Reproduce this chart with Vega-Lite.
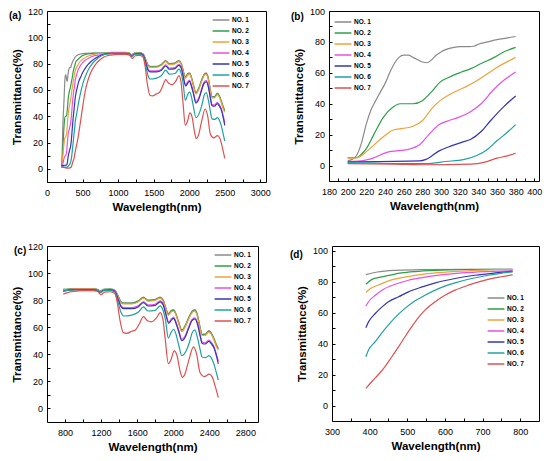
{
  "$schema": "https://vega.github.io/schema/vega-lite/v6.json",
  "background": "white",
  "padding": {"left": 8, "top": 6, "right": 0, "bottom": 0},
  "config": {
    "font": "Liberation Sans",
    "view": {"stroke": "black", "strokeWidth": 1},
    "axis": {
      "domain": false, "grid": false, "tickColor": "black", "tickSize": -3, "tickWidth": 1,
      "labelFontSize": 9, "labelColor": "black", "labelFlush": false, "labelOverlap": false, "labelBound": false,
      "titleFontSize": 11.5, "titleFontWeight": "bold", "titleColor": "black", "format": "d"
    },
    "axisX": {"labelPadding": 9.5, "titlePadding": 4},
    "axisY": {"labelPadding": 7.5, "titlePadding": 5},
    "legend": {
      "orient": "none", "title": null, "padding": 0, "symbolType": "M-1.6,0H1.6", "symbolSize": 110,
      "symbolStrokeWidth": 1.5, "labelFontSize": 6.5, "labelFontWeight": "bold", "labelColor": "black",
      "rowPadding": 1, "labelOffset": 5
    },
    "title": {"fontSize": 10, "fontWeight": "bold", "anchor": "start", "frame": "group", "offset": 0, "baseline": "bottom", "color": "black"}
  },
  "datasets": {
    "spec": [
      {"s":"NO. 1","w":200,"t":3},{"s":"NO. 1","w":205,"t":4},{"s":"NO. 1","w":210,"t":7},{"s":"NO. 1","w":215,"t":15},{"s":"NO. 1","w":220,"t":27},{"s":"NO. 1","w":225,"t":36},{"s":"NO. 1","w":230,"t":42},{"s":"NO. 1","w":235,"t":47.5},{"s":"NO. 1","w":240,"t":53},{"s":"NO. 1","w":245,"t":60},{"s":"NO. 1","w":250,"t":66},{"s":"NO. 1","w":255,"t":70},{"s":"NO. 1","w":260,"t":71.5},{"s":"NO. 1","w":265,"t":71.5},{"s":"NO. 1","w":270,"t":70},{"s":"NO. 1","w":275,"t":68.5},{"s":"NO. 1","w":280,"t":67},{"s":"NO. 1","w":285,"t":66.5},{"s":"NO. 1","w":290,"t":68.5},{"s":"NO. 1","w":295,"t":71.5},{"s":"NO. 1","w":300,"t":73.5},{"s":"NO. 1","w":305,"t":75},{"s":"NO. 1","w":310,"t":76},{"s":"NO. 1","w":320,"t":77},{"s":"NO. 1","w":330,"t":77},{"s":"NO. 1","w":335,"t":77.2},{"s":"NO. 1","w":340,"t":78.5},{"s":"NO. 1","w":350,"t":80},{"s":"NO. 1","w":360,"t":81.5},{"s":"NO. 1","w":370,"t":82.5},{"s":"NO. 1","w":380,"t":83.5},
      {"s":"NO. 1","w":390,"t":84.5},{"s":"NO. 1","w":420,"t":86.2},{"s":"NO. 1","w":470,"t":87.3},{"s":"NO. 1","w":550,"t":87.8},{"s":"NO. 1","w":650,"t":88},{"s":"NO. 1","w":780,"t":88},
      {"s":"NO. 1","w":800,"t":88},{"s":"NO. 1","w":900,"t":88.5},{"s":"NO. 1","w":1000,"t":88.5},{"s":"NO. 1","w":1100,"t":88.5},{"s":"NO. 1","w":1160,"t":88},{"s":"NO. 1","w":1190,"t":86.8},{"s":"NO. 1","w":1230,"t":88},{"s":"NO. 1","w":1300,"t":88.2},{"s":"NO. 1","w":1350,"t":87.5},{"s":"NO. 1","w":1390,"t":83},{"s":"NO. 1","w":1420,"t":79},{"s":"NO. 1","w":1450,"t":78},{"s":"NO. 1","w":1540,"t":78},{"s":"NO. 1","w":1610,"t":79.5},{"s":"NO. 1","w":1670,"t":82.3},{"s":"NO. 1","w":1720,"t":80},{"s":"NO. 1","w":1800,"t":80.6},{"s":"NO. 1","w":1855,"t":82.3},{"s":"NO. 1","w":1890,"t":80},{"s":"NO. 1","w":1915,"t":75},{"s":"NO. 1","w":1945,"t":70},{"s":"NO. 1","w":1980,"t":72.5},{"s":"NO. 1","w":2005,"t":73},{"s":"NO. 1","w":2030,"t":70},{"s":"NO. 1","w":2060,"t":64},{"s":"NO. 1","w":2095,"t":58},{"s":"NO. 1","w":2130,"t":61},{"s":"NO. 1","w":2170,"t":67},{"s":"NO. 1","w":2205,"t":71.5},{"s":"NO. 1","w":2235,"t":73},{"s":"NO. 1","w":2265,"t":70},{"s":"NO. 1","w":2295,"t":61},{"s":"NO. 1","w":2320,"t":55},{"s":"NO. 1","w":2355,"t":55},{"s":"NO. 1","w":2395,"t":57.5},{"s":"NO. 1","w":2420,"t":56},{"s":"NO. 1","w":2450,"t":52},{"s":"NO. 1","w":2480,"t":47},{"s":"NO. 1","w":2500,"t":44.5},

      {"s":"NO. 2","w":200,"t":5},{"s":"NO. 2","w":210,"t":5.2},{"s":"NO. 2","w":215,"t":7.5},{"s":"NO. 2","w":220,"t":11},{"s":"NO. 2","w":228,"t":20},{"s":"NO. 2","w":238,"t":31},{"s":"NO. 2","w":249,"t":38},{"s":"NO. 2","w":256,"t":40},{"s":"NO. 2","w":270,"t":40},{"s":"NO. 2","w":280,"t":42},{"s":"NO. 2","w":291,"t":48.5},{"s":"NO. 2","w":299,"t":54},{"s":"NO. 2","w":308,"t":57},{"s":"NO. 2","w":322,"t":60.5},{"s":"NO. 2","w":332,"t":62.7},{"s":"NO. 2","w":343,"t":66},{"s":"NO. 2","w":357,"t":70},{"s":"NO. 2","w":367,"t":73.5},{"s":"NO. 2","w":380,"t":76.5},
      {"s":"NO. 2","w":390,"t":78.3},{"s":"NO. 2","w":405,"t":81.3},{"s":"NO. 2","w":425,"t":82.7},{"s":"NO. 2","w":450,"t":84},{"s":"NO. 2","w":485,"t":85.6},{"s":"NO. 2","w":520,"t":86.5},{"s":"NO. 2","w":575,"t":87.3},{"s":"NO. 2","w":645,"t":87.8},{"s":"NO. 2","w":780,"t":88},
      {"s":"NO. 2","w":800,"t":87.9},{"s":"NO. 2","w":900,"t":88.4},{"s":"NO. 2","w":1000,"t":88.4},{"s":"NO. 2","w":1100,"t":88.4},{"s":"NO. 2","w":1160,"t":87.9},{"s":"NO. 2","w":1190,"t":86.7},{"s":"NO. 2","w":1230,"t":87.9},{"s":"NO. 2","w":1300,"t":88.1},{"s":"NO. 2","w":1350,"t":87.3},{"s":"NO. 2","w":1390,"t":82.6},{"s":"NO. 2","w":1420,"t":78.6},{"s":"NO. 2","w":1450,"t":77.6},{"s":"NO. 2","w":1540,"t":77.6},{"s":"NO. 2","w":1610,"t":79.1},{"s":"NO. 2","w":1670,"t":81.9},{"s":"NO. 2","w":1720,"t":79.6},{"s":"NO. 2","w":1800,"t":80.2},{"s":"NO. 2","w":1855,"t":81.9},{"s":"NO. 2","w":1890,"t":79.5},{"s":"NO. 2","w":1915,"t":74.5},{"s":"NO. 2","w":1945,"t":69.4},{"s":"NO. 2","w":1980,"t":72},{"s":"NO. 2","w":2005,"t":72.5},{"s":"NO. 2","w":2030,"t":69.5},{"s":"NO. 2","w":2060,"t":63.4},{"s":"NO. 2","w":2095,"t":57.4},{"s":"NO. 2","w":2130,"t":60.4},{"s":"NO. 2","w":2170,"t":66.4},{"s":"NO. 2","w":2205,"t":71},{"s":"NO. 2","w":2235,"t":72.5},{"s":"NO. 2","w":2265,"t":69.4},{"s":"NO. 2","w":2295,"t":60.4},{"s":"NO. 2","w":2320,"t":54.5},{"s":"NO. 2","w":2355,"t":54.5},{"s":"NO. 2","w":2395,"t":57},{"s":"NO. 2","w":2420,"t":55.5},{"s":"NO. 2","w":2450,"t":51.4},{"s":"NO. 2","w":2480,"t":46.4},{"s":"NO. 2","w":2500,"t":44},

      {"s":"NO. 3","w":200,"t":4.8},{"s":"NO. 3","w":210,"t":5},{"s":"NO. 3","w":221,"t":9.5},{"s":"NO. 3","w":235,"t":17},{"s":"NO. 3","w":249,"t":23},{"s":"NO. 3","w":259,"t":24},{"s":"NO. 3","w":270,"t":25.4},{"s":"NO. 3","w":280,"t":29},{"s":"NO. 3","w":291,"t":37.5},{"s":"NO. 3","w":299,"t":42},{"s":"NO. 3","w":311,"t":46.5},{"s":"NO. 3","w":325,"t":50.5},{"s":"NO. 3","w":336,"t":54},{"s":"NO. 3","w":346,"t":58},{"s":"NO. 3","w":360,"t":63.5},{"s":"NO. 3","w":380,"t":70},
      {"s":"NO. 3","w":390,"t":73},{"s":"NO. 3","w":402,"t":75.5},{"s":"NO. 3","w":425,"t":78},{"s":"NO. 3","w":450,"t":80.5},{"s":"NO. 3","w":485,"t":82.6},{"s":"NO. 3","w":520,"t":84},{"s":"NO. 3","w":555,"t":85.2},{"s":"NO. 3","w":610,"t":86.3},{"s":"NO. 3","w":660,"t":87},{"s":"NO. 3","w":735,"t":87.7},{"s":"NO. 3","w":780,"t":87.8},
      {"s":"NO. 3","w":800,"t":87.8},{"s":"NO. 3","w":900,"t":88.3},{"s":"NO. 3","w":1000,"t":88.3},{"s":"NO. 3","w":1100,"t":88.3},{"s":"NO. 3","w":1160,"t":87.8},{"s":"NO. 3","w":1190,"t":86.6},{"s":"NO. 3","w":1230,"t":87.8},{"s":"NO. 3","w":1300,"t":88},{"s":"NO. 3","w":1350,"t":87.2},{"s":"NO. 3","w":1390,"t":82.3},{"s":"NO. 3","w":1420,"t":78.2},{"s":"NO. 3","w":1450,"t":77.2},{"s":"NO. 3","w":1540,"t":77.2},{"s":"NO. 3","w":1610,"t":78.7},{"s":"NO. 3","w":1670,"t":81.5},{"s":"NO. 3","w":1720,"t":79.2},{"s":"NO. 3","w":1800,"t":79.8},{"s":"NO. 3","w":1855,"t":81.5},{"s":"NO. 3","w":1890,"t":79},{"s":"NO. 3","w":1915,"t":74},{"s":"NO. 3","w":1945,"t":68.8},{"s":"NO. 3","w":1980,"t":71.4},{"s":"NO. 3","w":2005,"t":72},{"s":"NO. 3","w":2030,"t":69},{"s":"NO. 3","w":2060,"t":62.8},{"s":"NO. 3","w":2095,"t":56.8},{"s":"NO. 3","w":2130,"t":59.8},{"s":"NO. 3","w":2170,"t":65.8},{"s":"NO. 3","w":2205,"t":70.4},{"s":"NO. 3","w":2235,"t":72},{"s":"NO. 3","w":2265,"t":68.8},{"s":"NO. 3","w":2295,"t":59.8},{"s":"NO. 3","w":2320,"t":54},{"s":"NO. 3","w":2355,"t":54},{"s":"NO. 3","w":2395,"t":56.4},{"s":"NO. 3","w":2420,"t":55},{"s":"NO. 3","w":2450,"t":50.8},{"s":"NO. 3","w":2480,"t":45.5},{"s":"NO. 3","w":2500,"t":43},

      {"s":"NO. 4","w":200,"t":2.6},{"s":"NO. 4","w":214,"t":3},{"s":"NO. 4","w":228,"t":5},{"s":"NO. 4","w":242,"t":8.5},{"s":"NO. 4","w":252,"t":9.5},{"s":"NO. 4","w":266,"t":10.6},{"s":"NO. 4","w":277,"t":13.4},{"s":"NO. 4","w":287,"t":20},{"s":"NO. 4","w":298,"t":26.5},{"s":"NO. 4","w":308,"t":29},{"s":"NO. 4","w":318,"t":31},{"s":"NO. 4","w":332,"t":35},{"s":"NO. 4","w":343,"t":40},{"s":"NO. 4","w":357,"t":49.5},{"s":"NO. 4","w":367,"t":55},{"s":"NO. 4","w":380,"t":60.5},
      {"s":"NO. 4","w":390,"t":64.2},{"s":"NO. 4","w":397,"t":67},{"s":"NO. 4","w":415,"t":71.2},{"s":"NO. 4","w":433,"t":74.5},{"s":"NO. 4","w":468,"t":78.3},{"s":"NO. 4","w":503,"t":80.9},{"s":"NO. 4","w":540,"t":82.6},{"s":"NO. 4","w":590,"t":84.3},{"s":"NO. 4","w":645,"t":85.6},{"s":"NO. 4","w":715,"t":86.5},{"s":"NO. 4","w":780,"t":87},
      {"s":"NO. 4","w":800,"t":87.3},{"s":"NO. 4","w":900,"t":88},{"s":"NO. 4","w":1000,"t":88},{"s":"NO. 4","w":1100,"t":88},{"s":"NO. 4","w":1160,"t":87.5},{"s":"NO. 4","w":1190,"t":86},{"s":"NO. 4","w":1230,"t":87.5},{"s":"NO. 4","w":1300,"t":87.8},{"s":"NO. 4","w":1350,"t":87},{"s":"NO. 4","w":1390,"t":81},{"s":"NO. 4","w":1420,"t":76},{"s":"NO. 4","w":1450,"t":74.5},{"s":"NO. 4","w":1540,"t":74.5},{"s":"NO. 4","w":1610,"t":75.8},{"s":"NO. 4","w":1670,"t":79},{"s":"NO. 4","w":1720,"t":76.5},{"s":"NO. 4","w":1800,"t":77},{"s":"NO. 4","w":1855,"t":79.5},{"s":"NO. 4","w":1890,"t":77},{"s":"NO. 4","w":1915,"t":71},{"s":"NO. 4","w":1950,"t":64},{"s":"NO. 4","w":1985,"t":66.5},{"s":"NO. 4","w":2005,"t":67.5},{"s":"NO. 4","w":2030,"t":64},{"s":"NO. 4","w":2060,"t":58},{"s":"NO. 4","w":2095,"t":51},{"s":"NO. 4","w":2135,"t":54},{"s":"NO. 4","w":2170,"t":60},{"s":"NO. 4","w":2205,"t":65.5},{"s":"NO. 4","w":2240,"t":67},{"s":"NO. 4","w":2270,"t":63},{"s":"NO. 4","w":2300,"t":54},{"s":"NO. 4","w":2320,"t":49},{"s":"NO. 4","w":2355,"t":48.5},{"s":"NO. 4","w":2395,"t":50.5},{"s":"NO. 4","w":2420,"t":49},{"s":"NO. 4","w":2450,"t":46},{"s":"NO. 4","w":2480,"t":40},{"s":"NO. 4","w":2500,"t":35},

      {"s":"NO. 5","w":200,"t":2.2},{"s":"NO. 5","w":231,"t":2.6},{"s":"NO. 5","w":277,"t":3},{"s":"NO. 5","w":284,"t":4},{"s":"NO. 5","w":298,"t":9.5},{"s":"NO. 5","w":308,"t":12},{"s":"NO. 5","w":322,"t":15},{"s":"NO. 5","w":332,"t":17},{"s":"NO. 5","w":343,"t":22},{"s":"NO. 5","w":353,"t":29},{"s":"NO. 5","w":367,"t":38},{"s":"NO. 5","w":380,"t":45},
      {"s":"NO. 5","w":390,"t":50.2},{"s":"NO. 5","w":397,"t":54},{"s":"NO. 5","w":415,"t":59.4},{"s":"NO. 5","w":433,"t":63.7},{"s":"NO. 5","w":450,"t":67},{"s":"NO. 5","w":477,"t":70.2},{"s":"NO. 5","w":503,"t":73.4},{"s":"NO. 5","w":540,"t":76.6},{"s":"NO. 5","w":575,"t":79.2},{"s":"NO. 5","w":627,"t":82},{"s":"NO. 5","w":680,"t":84.1},{"s":"NO. 5","w":733,"t":85.6},{"s":"NO. 5","w":780,"t":86.7},
      {"s":"NO. 5","w":800,"t":87},{"s":"NO. 5","w":900,"t":87.8},{"s":"NO. 5","w":1000,"t":87.8},{"s":"NO. 5","w":1100,"t":87.8},{"s":"NO. 5","w":1160,"t":87.3},{"s":"NO. 5","w":1190,"t":85.7},{"s":"NO. 5","w":1230,"t":87.3},{"s":"NO. 5","w":1300,"t":87.6},{"s":"NO. 5","w":1350,"t":86.6},{"s":"NO. 5","w":1390,"t":80.4},{"s":"NO. 5","w":1420,"t":75.2},{"s":"NO. 5","w":1450,"t":73.7},{"s":"NO. 5","w":1540,"t":73.7},{"s":"NO. 5","w":1610,"t":75},{"s":"NO. 5","w":1670,"t":78.2},{"s":"NO. 5","w":1720,"t":75.7},{"s":"NO. 5","w":1800,"t":76.2},{"s":"NO. 5","w":1855,"t":78.7},{"s":"NO. 5","w":1890,"t":76.2},{"s":"NO. 5","w":1915,"t":70.2},{"s":"NO. 5","w":1950,"t":63},{"s":"NO. 5","w":1985,"t":65.6},{"s":"NO. 5","w":2005,"t":66.6},{"s":"NO. 5","w":2030,"t":63},{"s":"NO. 5","w":2060,"t":57},{"s":"NO. 5","w":2095,"t":50},{"s":"NO. 5","w":2135,"t":53},{"s":"NO. 5","w":2170,"t":59},{"s":"NO. 5","w":2205,"t":64.6},{"s":"NO. 5","w":2240,"t":66.2},{"s":"NO. 5","w":2270,"t":62},{"s":"NO. 5","w":2300,"t":53},{"s":"NO. 5","w":2320,"t":48},{"s":"NO. 5","w":2355,"t":47.6},{"s":"NO. 5","w":2395,"t":49.6},{"s":"NO. 5","w":2420,"t":48},{"s":"NO. 5","w":2450,"t":45},{"s":"NO. 5","w":2480,"t":38.5},{"s":"NO. 5","w":2500,"t":33},

      {"s":"NO. 6","w":200,"t":1.7},{"s":"NO. 6","w":220,"t":1.7},{"s":"NO. 6","w":249,"t":1.3},{"s":"NO. 6","w":284,"t":1.3},{"s":"NO. 6","w":305,"t":2.6},{"s":"NO. 6","w":325,"t":4},{"s":"NO. 6","w":339,"t":6.7},{"s":"NO. 6","w":350,"t":10.6},{"s":"NO. 6","w":360,"t":16},{"s":"NO. 6","w":371,"t":21.5},{"s":"NO. 6","w":380,"t":26.5},
      {"s":"NO. 6","w":390,"t":31.5},{"s":"NO. 6","w":397,"t":35.8},{"s":"NO. 6","w":415,"t":41.2},{"s":"NO. 6","w":433,"t":47},{"s":"NO. 6","w":450,"t":52},{"s":"NO. 6","w":468,"t":56.9},{"s":"NO. 6","w":494,"t":62.7},{"s":"NO. 6","w":521,"t":67.6},{"s":"NO. 6","w":547,"t":71.2},{"s":"NO. 6","w":583,"t":75.5},{"s":"NO. 6","w":627,"t":79.2},{"s":"NO. 6","w":671,"t":82},{"s":"NO. 6","w":715,"t":84.1},{"s":"NO. 6","w":780,"t":86.3},
      {"s":"NO. 6","w":800,"t":86.8},{"s":"NO. 6","w":900,"t":87.5},{"s":"NO. 6","w":1000,"t":87.5},{"s":"NO. 6","w":1100,"t":87.5},{"s":"NO. 6","w":1160,"t":87},{"s":"NO. 6","w":1190,"t":85.5},{"s":"NO. 6","w":1230,"t":87},{"s":"NO. 6","w":1300,"t":87.2},{"s":"NO. 6","w":1350,"t":86},{"s":"NO. 6","w":1385,"t":79},{"s":"NO. 6","w":1420,"t":71},{"s":"NO. 6","w":1450,"t":68.3},{"s":"NO. 6","w":1540,"t":69},{"s":"NO. 6","w":1610,"t":71},{"s":"NO. 6","w":1670,"t":75},{"s":"NO. 6","w":1720,"t":72},{"s":"NO. 6","w":1800,"t":72.5},{"s":"NO. 6","w":1855,"t":75.8},{"s":"NO. 6","w":1890,"t":72},{"s":"NO. 6","w":1915,"t":65},{"s":"NO. 6","w":1945,"t":52},{"s":"NO. 6","w":1975,"t":56},{"s":"NO. 6","w":2005,"t":58.5},{"s":"NO. 6","w":2030,"t":55},{"s":"NO. 6","w":2060,"t":47},{"s":"NO. 6","w":2095,"t":39},{"s":"NO. 6","w":2150,"t":43.5},{"s":"NO. 6","w":2185,"t":50},{"s":"NO. 6","w":2210,"t":56},{"s":"NO. 6","w":2240,"t":58},{"s":"NO. 6","w":2270,"t":52},{"s":"NO. 6","w":2300,"t":43},{"s":"NO. 6","w":2320,"t":38},{"s":"NO. 6","w":2360,"t":37.6},{"s":"NO. 6","w":2397,"t":39},{"s":"NO. 6","w":2425,"t":37},{"s":"NO. 6","w":2450,"t":33},{"s":"NO. 6","w":2480,"t":26},{"s":"NO. 6","w":2500,"t":21},

      {"s":"NO. 7","w":200,"t":1.3},{"s":"NO. 7","w":250,"t":0.9},{"s":"NO. 7","w":284,"t":0.5},{"s":"NO. 7","w":332,"t":0.9},{"s":"NO. 7","w":346,"t":2},{"s":"NO. 7","w":360,"t":4.8},{"s":"NO. 7","w":371,"t":6.3},{"s":"NO. 7","w":380,"t":8},
      {"s":"NO. 7","w":390,"t":11},{"s":"NO. 7","w":406,"t":15.5},{"s":"NO. 7","w":424,"t":20.2},{"s":"NO. 7","w":442,"t":25.5},{"s":"NO. 7","w":459,"t":31.5},{"s":"NO. 7","w":477,"t":38},{"s":"NO. 7","w":494,"t":44.4},{"s":"NO. 7","w":512,"t":50.9},{"s":"NO. 7","w":530,"t":56.9},{"s":"NO. 7","w":547,"t":61.6},{"s":"NO. 7","w":574,"t":67},{"s":"NO. 7","w":600,"t":71.2},{"s":"NO. 7","w":627,"t":74.5},{"s":"NO. 7","w":662,"t":77.7},{"s":"NO. 7","w":697,"t":80.3},{"s":"NO. 7","w":733,"t":82.4},{"s":"NO. 7","w":780,"t":84.3},
      {"s":"NO. 7","w":800,"t":85},{"s":"NO. 7","w":850,"t":86},{"s":"NO. 7","w":900,"t":86.5},{"s":"NO. 7","w":1000,"t":87},{"s":"NO. 7","w":1100,"t":87},{"s":"NO. 7","w":1160,"t":86.5},{"s":"NO. 7","w":1200,"t":84},{"s":"NO. 7","w":1240,"t":86},{"s":"NO. 7","w":1300,"t":86.2},{"s":"NO. 7","w":1350,"t":85},{"s":"NO. 7","w":1380,"t":78},{"s":"NO. 7","w":1410,"t":65},{"s":"NO. 7","w":1447,"t":56},{"s":"NO. 7","w":1484,"t":55.5},{"s":"NO. 7","w":1540,"t":57},{"s":"NO. 7","w":1580,"t":58},{"s":"NO. 7","w":1620,"t":62},{"s":"NO. 7","w":1670,"t":67.8},{"s":"NO. 7","w":1710,"t":65},{"s":"NO. 7","w":1760,"t":64},{"s":"NO. 7","w":1815,"t":67},{"s":"NO. 7","w":1855,"t":70.8},{"s":"NO. 7","w":1885,"t":66},{"s":"NO. 7","w":1910,"t":52},{"s":"NO. 7","w":1946,"t":33},{"s":"NO. 7","w":1975,"t":36},{"s":"NO. 7","w":2010,"t":42.5},{"s":"NO. 7","w":2040,"t":39.5},{"s":"NO. 7","w":2075,"t":28},{"s":"NO. 7","w":2100,"t":23},{"s":"NO. 7","w":2130,"t":25.5},{"s":"NO. 7","w":2170,"t":35},{"s":"NO. 7","w":2225,"t":45.5},{"s":"NO. 7","w":2260,"t":40},{"s":"NO. 7","w":2297,"t":26.5},{"s":"NO. 7","w":2345,"t":23.5},{"s":"NO. 7","w":2397,"t":25.3},{"s":"NO. 7","w":2430,"t":23.5},{"s":"NO. 7","w":2465,"t":16.5},{"s":"NO. 7","w":2500,"t":8}
    ]
  },
  "spacing": 27,
  "resolve": {"scale": {"color": "independent"}, "legend": {"color": "independent"}},
  "vconcat": [
    {
      "spacing": 19,
      "resolve": {"scale": {"color": "independent"}, "legend": {"color": "independent"}},
      "hconcat": [
        {
          "width": 219, "height": 171,
          "title": {"text": "(a)", "dx": -38, "dy": 17.5},
          "data": {"name": "spec"},
          "mark": {"type": "line", "interpolate": "monotone", "strokeWidth": 1.2},
          "encoding": {
            "x": {"field": "w", "type": "quantitative", "scale": {"domain": [0, 3080], "nice": false},
              "axis": {"title": "Wavelength(nm)", "values": [0,250,500,750,1000,1250,1500,1750,2000,2250,2500,2750,3000], "labelExpr": "datum.value % 500 == 0 ? datum.label : ''"}},
            "y": {"field": "t", "type": "quantitative", "scale": {"domain": [-10, 120], "nice": false},
              "axis": {"title": "Transmittance(%)", "values": [0,10,20,30,40,50,60,70,80,90,100,110,120], "labelExpr": "datum.value % 20 == 0 ? datum.label : ''"}},
            "color": {"field": "s", "type": "nominal",
              "scale": {"domain": ["NO. 1","NO. 2","NO. 3","NO. 4","NO. 5","NO. 6","NO. 7"], "range": ["#8a8a8a","#2ca048","#f0a23a","#e650e6","#3535b5","#22a0a0","#e05050"]},
              "legend": {"legendX": 168, "legendY": 3}}
          }
        },
        {
          "width": 210, "height": 170,
          "title": {"text": "(b)", "dx": -38, "dy": 19.2},
          "data": {"name": "spec"},
          "transform": [{"filter": "datum.w <= 380"}],
          "mark": {"type": "line", "interpolate": "monotone", "strokeWidth": 1.2},
          "encoding": {
            "x": {"field": "w", "type": "quantitative", "scale": {"domain": [180, 405], "nice": false, "zero": false},
              "axis": {"title": "Wavelength(nm)", "values": [180,190,200,210,220,230,240,250,260,270,280,290,300,310,320,330,340,350,360,370,380,390,400], "labelExpr": "datum.value % 20 == 0 ? datum.label : ''"}},
            "y": {"field": "t", "type": "quantitative", "scale": {"domain": [-10, 100], "nice": false},
              "axis": {"title": "Transmittance(%)", "values": [0,10,20,30,40,50,60,70,80,90,100], "labelExpr": "datum.value % 20 == 0 ? datum.label : ''"}},
            "color": {"field": "s", "type": "nominal",
              "scale": {"domain": ["NO. 1","NO. 2","NO. 3","NO. 4","NO. 5","NO. 6","NO. 7"], "range": ["#8a8a8a","#2ca048","#f0a23a","#e650e6","#3535b5","#22a0a0","#e05050"]},
              "legend": {"legendX": 8, "legendY": 5}}
          }
        }
      ]
    },
    {
      "spacing": 30,
      "resolve": {"scale": {"color": "independent"}, "legend": {"color": "independent"}},
      "hconcat": [
        {
          "width": 211, "height": 176,
          "title": {"text": "(c)", "dx": -33, "dy": 17.5},
          "data": {"name": "spec"},
          "transform": [{"filter": "datum.w >= 780"}],
          "mark": {"type": "line", "interpolate": "monotone", "strokeWidth": 1.2},
          "encoding": {
            "x": {"field": "w", "type": "quantitative", "scale": {"domain": [600, 2940], "nice": false, "zero": false},
              "axis": {"title": "Wavelength(nm)", "values": [800,1000,1200,1400,1600,1800,2000,2200,2400,2600,2800], "labelExpr": "datum.value % 400 == 0 ? datum.label : ''"}},
            "y": {"field": "t", "type": "quantitative", "scale": {"domain": [-10, 120], "nice": false},
              "axis": {"title": "Transmittance(%)", "values": [0,10,20,30,40,50,60,70,80,90,100,110,120], "labelExpr": "datum.value % 20 == 0 ? datum.label : ''"}},
            "color": {"field": "s", "type": "nominal",
              "scale": {"domain": ["NO. 1","NO. 2","NO. 3","NO. 4","NO. 5","NO. 6","NO. 7"], "range": ["#8a8a8a","#2ca048","#f0a23a","#e650e6","#3535b5","#22a0a0","#e05050"]},
              "legend": {"legendX": 170, "legendY": 3}}
          }
        },
        {
          "width": 207, "height": 175,
          "title": {"text": "(d)", "dx": -42, "dy": 17.7},
          "data": {"name": "spec"},
          "transform": [{"filter": "datum.w >= 390 && datum.w <= 780"}],
          "mark": {"type": "line", "interpolate": "monotone", "strokeWidth": 1.2},
          "encoding": {
            "x": {"field": "w", "type": "quantitative", "scale": {"domain": [300, 850], "nice": false, "zero": false},
              "axis": {"title": "Wavelength(nm)", "values": [300,350,400,450,500,550,600,650,700,750,800], "labelExpr": "datum.value % 100 == 0 ? datum.label : ''"}},
            "y": {"field": "t", "type": "quantitative", "scale": {"domain": [-10, 103], "nice": false},
              "axis": {"title": "Transmittance(%)", "values": [0,10,20,30,40,50,60,70,80,90,100], "labelExpr": "datum.value % 20 == 0 ? datum.label : ''"}},
            "color": {"field": "s", "type": "nominal",
              "scale": {"domain": ["NO. 1","NO. 2","NO. 3","NO. 4","NO. 5","NO. 6","NO. 7"], "range": ["#8a8a8a","#2ca048","#f0a23a","#e650e6","#3535b5","#22a0a0","#e05050"]},
              "legend": {"legendX": 158, "legendY": 46}}
          }
        }
      ]
    }
  ]
}
